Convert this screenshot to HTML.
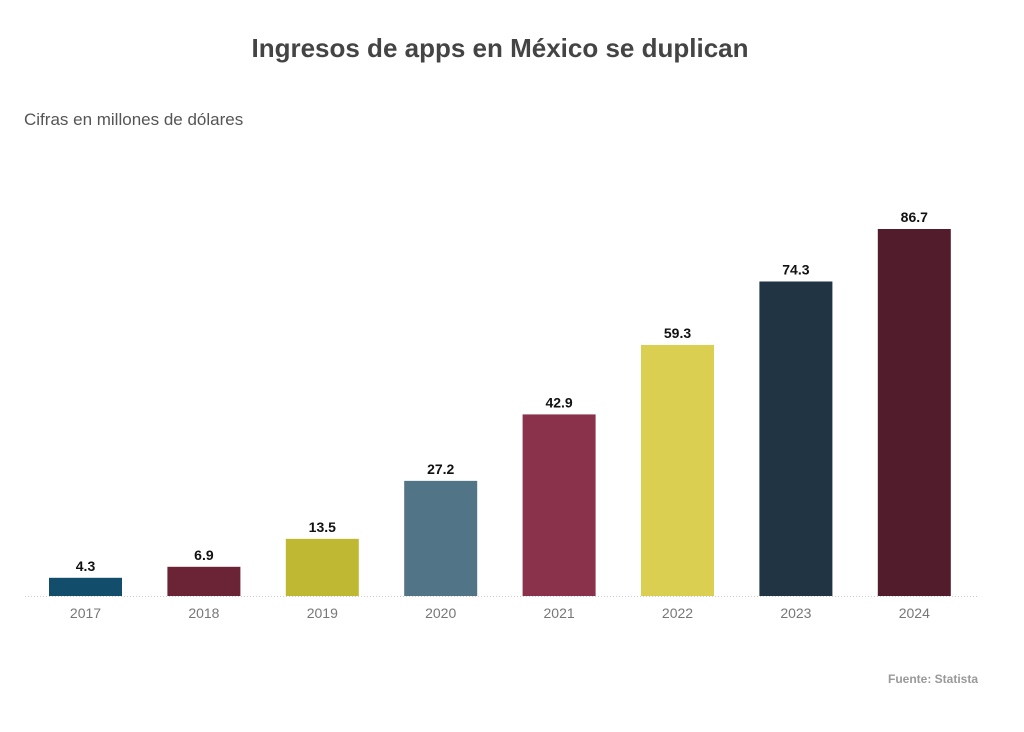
<!DOCTYPE html>
<html><head><meta charset="utf-8"><style>
body{margin:0;background:#fff;width:1024px;height:727px;overflow:hidden;font-family:"Liberation Sans",sans-serif}
</style></head><body>
<svg width="1024" height="727" id="chart">
<text x="500" y="57" text-anchor="middle" font-size="26" font-weight="bold" fill="#444">Ingresos de apps en México se duplican</text>
<text x="24" y="125" font-size="17" fill="#555">Cifras en millones de dólares</text>
<line x1="25" y1="596.5" x2="978" y2="596.5" stroke="#ccc" stroke-dasharray="1,2"/>
<text x="978" y="683" text-anchor="end" font-size="12" font-weight="bold" fill="#999">Fuente: Statista</text>
<g id="bars"></g>
</svg>
<script>
const categories=["2017","2018","2019","2020","2021","2022","2023","2024"];
const values=[4.3,6.9,13.5,27.2,42.9,59.3,74.3,86.7];
const labels=["4.3","6.9","13.5","27.2","42.9","59.3","74.3","86.7"];
const colors=["#124e6b","#6b2436","#bfb833","#527487","#8a324c","#dbcf52","#203444","#521c2c"];
const NS="http://www.w3.org/2000/svg";
const g=document.getElementById("bars");
const baseY=596, scale=367/86.7;
function xPos(i){return 49+i*118.4;}
function yPos(v){return baseY-v*scale;}
categories.forEach((c,i)=>{
  const r=document.createElementNS(NS,"rect");
  r.setAttribute("x",xPos(i));r.setAttribute("y",yPos(values[i]));
  r.setAttribute("width",73);r.setAttribute("height",baseY-yPos(values[i]));
  r.setAttribute("fill",colors[i]);
  
  
  g.appendChild(r);
  const t=document.createElementNS(NS,"text");
  t.setAttribute("x",xPos(i)+36.5);t.setAttribute("y",yPos(values[i])-7);
  t.setAttribute("text-anchor","middle");t.setAttribute("font-size","14");t.setAttribute("font-weight","bold");t.setAttribute("fill","#111");
  t.textContent=labels[i];
  
  
  g.appendChild(t);
  const a=document.createElementNS(NS,"text");
  a.setAttribute("x",xPos(i)+36.5);a.setAttribute("y",618);
  a.setAttribute("text-anchor","middle");a.setAttribute("font-size","14");a.setAttribute("fill","#777");
  a.textContent=c;
  
  
  g.appendChild(a);
});
</script>
</body></html>
